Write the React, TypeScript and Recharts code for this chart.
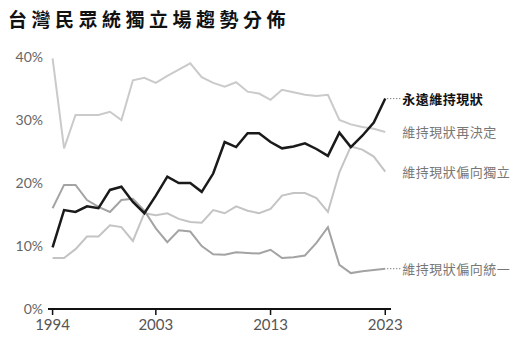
import { LineChart, Line, XAxis, YAxis } from 'recharts';

const years = [
  1994, 1995, 1996, 1997, 1998, 1999, 2000, 2001, 2002, 2003,
  2004, 2005, 2006, 2007, 2008, 2009, 2010, 2011, 2012, 2013,
  2014, 2015, 2016, 2017, 2018, 2019, 2020, 2021, 2022, 2023,
];

// 永遠維持現狀
const statusQuoForever = [
  9.8, 15.7, 15.4, 16.3, 16.0, 18.9, 19.4, 17.0, 15.2, 18.0,
  21.0, 20.0, 20.0, 18.6, 21.5, 26.5, 25.7, 27.9, 27.9, 26.5,
  25.5, 25.8, 26.3, 25.4, 24.3, 28.0, 25.7, 27.5, 29.6, 33.4,
];

// 維持現狀再決定
const decideLater = [
  39.8, 25.5, 30.8, 30.8, 30.8, 31.3, 30.0, 36.3, 36.7, 35.9,
  37.0, 38.0, 39.0, 36.8, 35.9, 35.3, 36.0, 34.5, 34.2, 33.2,
  34.8, 34.4, 34.0, 33.8, 34.0, 30.0, 29.3, 28.9, 28.6, 28.1,
];

// 維持現狀偏向獨立
const leanIndependence = [
  8.1, 8.1, 9.5, 11.5, 11.5, 13.3, 13.0, 10.8, 15.2, 14.9,
  15.2, 14.3, 13.8, 13.7, 15.7, 15.2, 16.3, 15.6, 15.2, 15.9,
  18.0, 18.4, 18.4, 17.6, 15.4, 21.7, 25.8, 25.3, 24.2, 21.8,
];

// 維持現狀偏向統一
const leanUnification = [
  16.0, 19.7, 19.7, 17.3, 16.2, 15.4, 17.3, 17.5, 15.6, 12.8,
  10.6, 12.5, 12.3, 10.0, 8.7, 8.6, 9.0, 8.9, 8.8, 9.4,
  8.1, 8.2, 8.5, 10.5, 13.0, 7.0, 5.7, 6.0, 6.2, 6.4,
];

const xTicks = [1994, 2003, 2013, 2023];
const yTicks = [0, 10, 20, 30, 40];

const data = years.map((year, i) => ({
  year,
  forever: statusQuoForever[i],
  later: decideLater[i],
  indep: leanIndependence[i],
  unif: leanUnification[i],
}));

const tickFont = 'Lato, "DejaVu Sans", sans-serif';
const cjkFont = '"Noto Sans CJK TC", sans-serif';

const endLabel = (text: string, color: string, bold: boolean, leader: boolean) => (props: any) => {
  const { x, y, index } = props;
  if (index !== years.length - 1) return null;
  return (
    <g>
      {leader && (
        <line x1={x + 2} x2={x + 15} y1={y} y2={y} stroke="#555" strokeWidth={1} strokeDasharray="1 2" />
      )}
      <text
        x={x + 17}
        y={y}
        dominantBaseline="central"
        fontFamily={cjkFont}
        fontSize={13}
        letterSpacing={0.5}
        fontWeight={bold ? 700 : 400}
        fill={color}
      >
        {text}
      </text>
    </g>
  );
};

export default function App() {
  return (
    <div style={{ position: 'absolute', left: 0, top: 0, width: 521, height: 349, background: '#fff' }}>
      <div
        style={{
          position: 'absolute',
          left: 8,
          top: 6,
          fontFamily: cjkFont,
          fontWeight: 700,
          fontSize: 19,
          letterSpacing: 4.5,
          color: '#111',
          lineHeight: '26px',
        }}
      >
        台灣民眾統獨立場趨勢分佈
      </div>
      <LineChart width={521} height={349} data={data} margin={{ top: 57, right: 130, left: 0, bottom: 10 }}>
        <XAxis
          dataKey="year"
          type="number"
          domain={[1993.6, 2023.5]}
          ticks={xTicks}
          height={30}
          axisLine={{ stroke: '#111', strokeWidth: 2 }}
          tickLine={{ stroke: '#111', strokeWidth: 1.5 }}
          tickSize={6}
          tickMargin={4}
          tick={{ fontSize: 15, fill: '#555', fontFamily: tickFont }}
        />
        <YAxis
          domain={[0, 40]}
          ticks={yTicks}
          width={48}
          axisLine={false}
          tickLine={false}
          tickSize={0}
          tickMargin={5}
          tickFormatter={(v: number) => `${v}%`}
          tick={{ fontSize: 14, fill: '#666', fontFamily: tickFont }}
        />
        <Line
          dataKey="later"
          stroke="#cacaca"
          strokeWidth={2}
          dot={false}
          isAnimationActive={false}
          label={endLabel('維持現狀再決定', '#777', false, false)}
        />
        <Line
          dataKey="indep"
          stroke="#c4c4c4"
          strokeWidth={2}
          dot={false}
          isAnimationActive={false}
          label={endLabel('維持現狀偏向獨立', '#777', false, false)}
        />
        <Line
          dataKey="unif"
          stroke="#a3a3a3"
          strokeWidth={2}
          dot={false}
          isAnimationActive={false}
          label={endLabel('維持現狀偏向統一', '#777', false, true)}
        />
        <Line
          dataKey="forever"
          stroke="#1a1a1a"
          strokeWidth={2.5}
          dot={false}
          isAnimationActive={false}
          label={endLabel('永遠維持現狀', '#111', true, true)}
        />
      </LineChart>
    </div>
  );
}
